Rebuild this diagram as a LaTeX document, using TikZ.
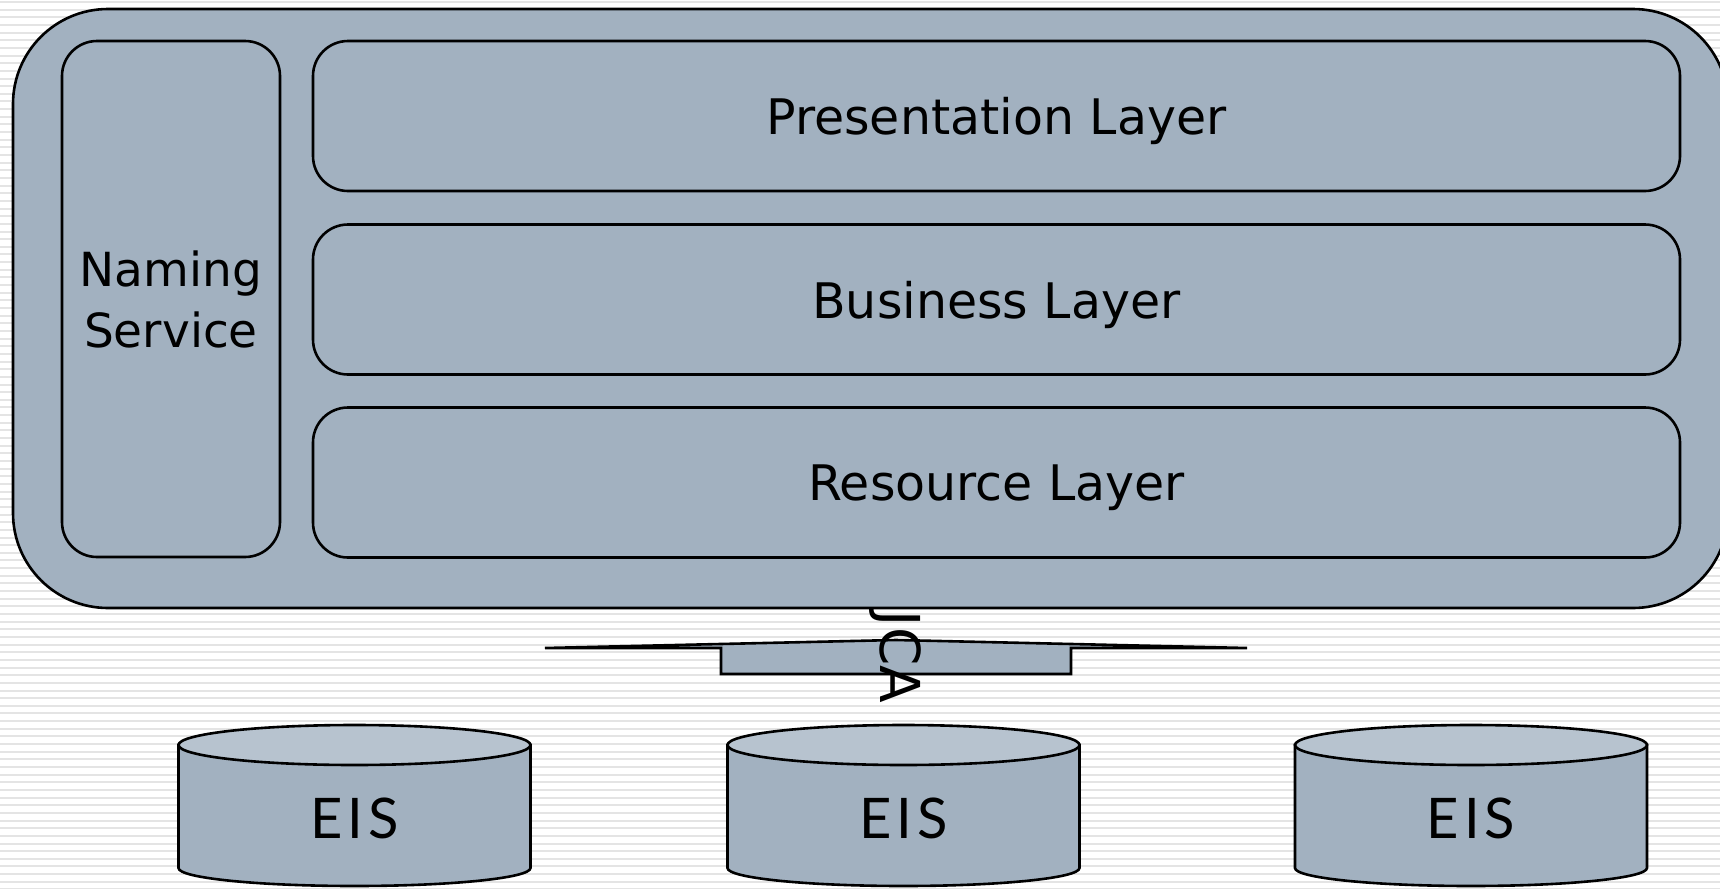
\documentclass[tikz,border=0pt]{standalone}
\usepackage{fontspec}
\usepackage{xcolor}
\newfontfamily\handfont{DejaVu Sans}
\newfontfamily\eisfont[LetterSpace=9]{Lato}

\definecolor{slate}{RGB}{162,177,192}
\definecolor{slatetop}{RGB}{183,195,207}
\definecolor{stripe}{RGB}{228,228,228}

\begin{document}
\begin{tikzpicture}[x=0.5pt,y=-0.5pt,
  panel/.style={draw=black, line width=1.3pt, fill=slate, rounded corners=17.5pt},
  layer/.style={panel, minimum width=683.5pt, minimum height=75pt, text depth=0pt,
    font=\handfont\fontsize{24.5}{30.5}\selectfont},
  dbtext/.style={font=\eisfont\fontsize{28}{32}\selectfont}]
%\draw[help lines] (0,0) grid (1720,889);
\useasboundingbox (0,0) rectangle (1720,889);

% striped background
\fill[white] (0,0) rectangle (1720,889);
\foreach \sy in {1,8.65,...,889}
  \fill[stripe] (0,\sy) rectangle (1720,\sy+2);

% container
\draw[panel, rounded corners=47.5pt] (13,9) rectangle (1728,608);

\node[panel, minimum width=109pt, minimum height=258pt, align=center,
  font=\handfont\fontsize{23.5}{30.5}\selectfont] (naming) at (171,299) {Naming\\Service};

\node[layer] (presentation) at (996.5,116) {Presentation Layer};
\node[layer] (business) at (996.5,299.5) {Business Layer};
\node[layer] (resource) at (996.5,482.5) {Resource Layer};

% connector bar
\draw[line width=1.3pt, fill=slate, line join=miter]
  (545,648) -- (896,640) -- (1247,648) -- (1071,648) -- (1071,674)
  -- (721,674) -- (721,648) -- cycle;
\node[rotate=-90, font=\handfont\fontsize{27.5}{30}\selectfont] (jca) at (895,657) {JCA};

% data stores
\foreach \cx/\nm in {354.5/eisA, 903.5/eisB, 1471/eisC} {
  \draw[line width=1.3pt, fill=slate]
    (\cx-176,745) -- (\cx-176,868)
    arc[start angle=180, end angle=360, x radius=88pt, y radius=9pt]
    -- (\cx+176,745) -- cycle;
  \draw[line width=1.3pt, fill=slatetop] (\cx,745) ellipse[x radius=88pt, y radius=10pt];
  \node[dbtext] (\nm) at (\cx,818) {EIS};
}

\end{tikzpicture}
\end{document}
